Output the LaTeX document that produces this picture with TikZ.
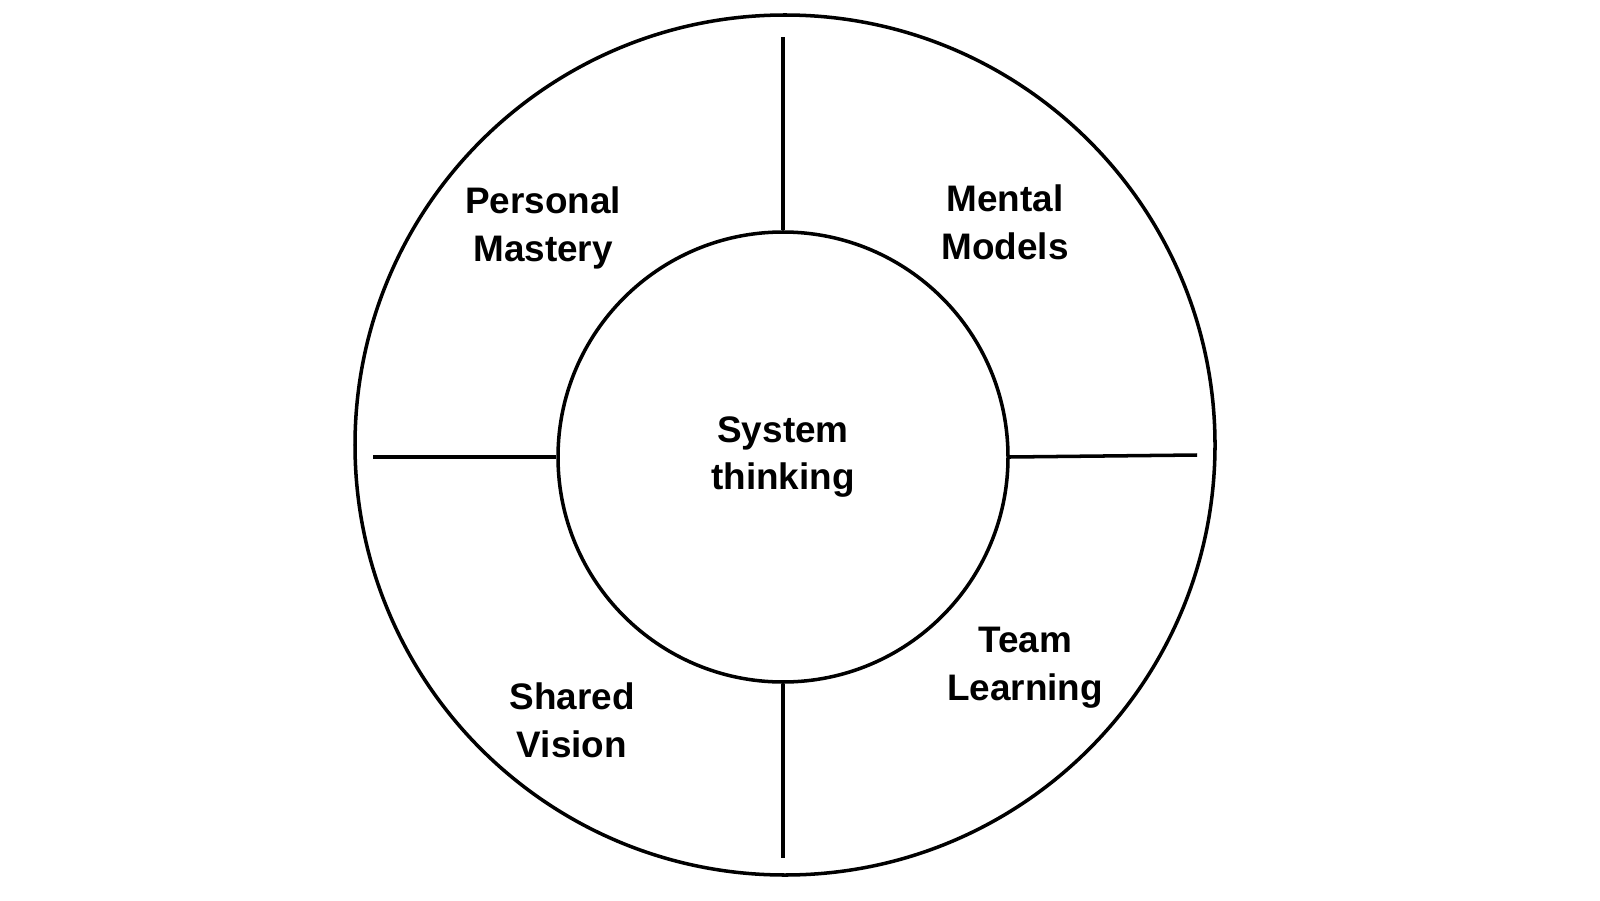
\documentclass[tikz,border=0pt]{standalone}
\usepackage{fontspec}
\setmainfont{Liberation Sans}
\tikzset{
  ring/.style={draw, circle, line width=1pt, inner sep=0pt},
  spoke/.style={line width=1pt},
  disc/.style={font=\bfseries\fontsize{10.5}{13.6}\selectfont, align=center}
}
\begin{document}
\begin{tikzpicture}
	\useasboundingbox (0,0) rectangle (16,9);
	% Circles
	\node[ring, minimum size=8.6cm] (outer) at (7.85,4.55) {};
	\node[ring, minimum size=4.5cm] (inner) at (7.83,4.43) {};
	
	% Spokes
	\coordinate (top) at (7.83,8.63);
	\coordinate (bottom) at (7.83,0.42);
	\coordinate (left) at (3.73,4.43);
	\coordinate (right) at (11.97,4.45);
	\draw[spoke] (inner.north) -- (top);
	\draw[spoke] (inner.south) -- (bottom);
	\draw[spoke] (inner.west) -- (left);
	\draw[spoke] (inner.east) -- (right);
	
	% Labels
	\node[disc] (st) at (inner) {System\\thinking};
	\node[disc] (pm) at (5.43,6.72) {Personal\\Mastery};
	\node[disc] (mm) at (10.05,6.78) {Mental\\Models};
	\node[disc] (sv) at (5.72,1.80) {Shared\\Vision};
	\node[disc] (tl) at (10.25,2.32) {Team\\Learning};
\end{tikzpicture}
\end{document}
